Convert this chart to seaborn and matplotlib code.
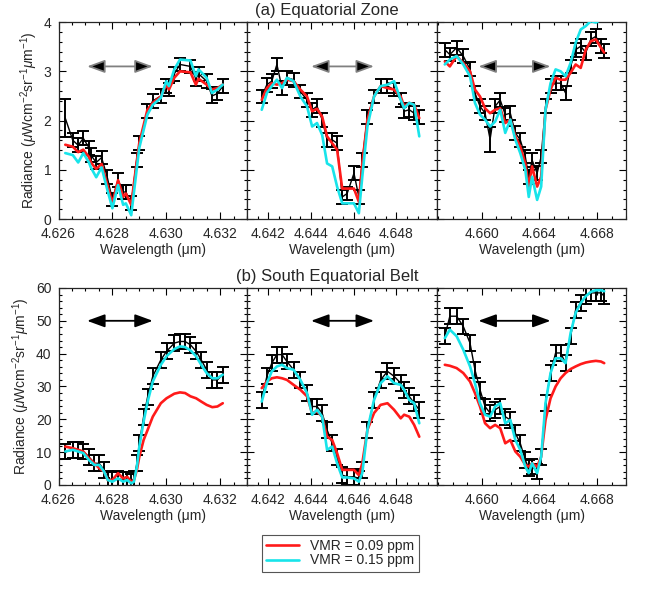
import matplotlib
matplotlib.use("Agg")
import matplotlib.pyplot as plt
import seaborn as sns
from matplotlib.ticker import MultipleLocator, FormatStrFormatter
from matplotlib.lines import Line2D

# --- 1. values ---
# (a) Equatorial Zone, window 1
ez1_wl = [4.62625, 4.62653, 4.62673, 4.62692, 4.62713, 4.62720, 4.62740, 4.62760,
          4.62781, 4.62800, 4.62821, 4.62840, 4.62850, 4.62870, 4.62890, 4.62900,
          4.62930, 4.62950, 4.62980, 4.63000, 4.63010, 4.63030, 4.63051, 4.63090,
          4.63110, 4.63120, 4.63150, 4.63170, 4.63190, 4.63210]
ez1_obs = [2.05, 1.60, 1.50, 1.64, 1.45, 1.30, 1.15, 1.25, 0.85, 0.40, 0.80, 0.55, 0.55, 0.32, 1.20,
           1.55, 2.20, 2.40, 2.50, 2.70, 2.63, 2.95, 3.14, 3.10, 2.85, 2.95, 2.80, 2.50, 2.55, 2.70]
ez1_red = [1.51, 1.47, 1.36, 1.41, 1.26, 1.15, 1.02, 1.12, 0.70, 0.32, 0.79, 0.45, 0.52, 0.29, 1.15,
           1.55, 2.22, 2.36, 2.49, 2.73, 2.63, 2.87, 3.00, 2.98, 2.73, 2.85, 2.73, 2.63, 2.66, 2.73]
ez1_cyan = [1.34, 1.30, 1.15, 1.34, 1.15, 1.05, 0.85, 1.05, 0.60, 0.22, 0.69, 0.29, 0.32, 0.08, 1.00,
            1.45, 2.12, 2.32, 2.46, 2.80, 2.70, 3.04, 3.24, 3.22, 2.90, 3.04, 2.87, 2.56, 2.63, 2.73]

# (a) Equatorial Zone, window 2
ez2_wl = [4.64169, 4.64193, 4.64216, 4.64240, 4.64264, 4.64287, 4.64318, 4.64350,
          4.64381, 4.64405, 4.64428, 4.64452, 4.64475, 4.64499, 4.64522, 4.64546,
          4.64569, 4.64601, 4.64624, 4.64640, 4.64664, 4.64695, 4.64726, 4.64758,
          4.64789, 4.64820, 4.64836, 4.64860, 4.64883, 4.64907]
ez2_obs = [2.49, 2.73, 2.80, 3.14, 2.66, 2.87, 2.83, 2.59, 2.42, 2.22, 2.29, 2.02, 1.61, 1.61, 1.54,
           0.45, 0.52, 0.93, 0.45, 1.20, 2.08, 2.49, 2.70, 2.70, 2.63, 2.42, 2.19, 2.22, 2.15, 2.08]
ez2_red = [2.42, 2.66, 2.76, 2.73, 2.76, 2.83, 2.80, 2.63, 2.49, 2.19, 2.24, 2.08, 1.68, 1.54, 1.41,
           0.62, 0.62, 0.62, 0.35, 1.13, 2.02, 2.49, 2.70, 2.66, 2.63, 2.49, 2.29, 2.36, 2.32, 2.05]
ez2_cyan = [2.22, 2.56, 2.70, 2.83, 2.66, 2.87, 2.80, 2.49, 2.29, 1.88, 1.95, 1.71, 1.13, 1.07, 0.66,
            0.32, 0.32, 0.32, 0.12, 0.86, 1.88, 2.49, 2.70, 2.73, 2.80, 2.42, 2.25, 2.36, 2.32, 1.68]

# (a) Equatorial Zone, window 3
ez3_wl = [4.65744, 4.65779, 4.65826, 4.65872, 4.65919, 4.65953, 4.65988, 4.66023,
          4.66058, 4.66093, 4.66128, 4.66163, 4.66198, 4.66233, 4.66267, 4.66302,
          4.66326, 4.66349, 4.66384, 4.66412, 4.66442, 4.66477, 4.66512, 4.66547,
          4.66581, 4.66616, 4.66651, 4.66686, 4.66721, 4.66756, 4.66791, 4.66826, 4.66849]
ez3_obs = [3.44, 3.34, 3.48, 3.31, 3.04, 2.56, 2.29, 2.15, 1.62, 2.29, 2.42, 2.12, 2.15, 1.75, 1.61,
           1.27, 0.86, 1.20, 0.93, 1.27, 2.29, 2.70, 2.76, 2.76, 2.56, 3.10, 3.44, 3.51, 3.38, 3.65,
           3.71, 3.51, 3.41]
ez3_red = [3.20, 3.10, 3.31, 3.17, 3.00, 2.63, 2.49, 2.25, 2.15, 2.22, 2.25, 1.95, 2.02, 1.68, 1.47,
           1.13, 0.66, 1.07, 0.66, 0.86, 2.22, 2.63, 2.87, 2.83, 2.83, 2.97, 3.14, 3.07, 3.44, 3.61,
           3.65, 3.48, 3.38]
ez3_cyan = [3.14, 3.24, 3.31, 3.14, 2.90, 2.36, 2.12, 2.02, 1.88, 1.98, 2.22, 1.75, 2.02, 1.61, 1.34,
            1.00, 0.45, 0.86, 0.39, 0.66, 2.22, 2.76, 3.04, 3.00, 2.90, 3.17, 3.58, 3.85, 3.92, 4.02,
            3.99, 4.05, 4.05]

# (b) South Equatorial Belt, window 1
seb1_wl = [4.62625, 4.62653, 4.62673, 4.62692, 4.62713, 4.62733, 4.62751, 4.62769,
           4.62783, 4.62800, 4.62821, 4.62840, 4.62855, 4.62870, 4.62880, 4.62891,
           4.62900, 4.62916, 4.62931, 4.62950, 4.62980, 4.63001, 4.63030, 4.63051,
           4.63070, 4.63090, 4.63111, 4.63130, 4.63150, 4.63171, 4.63190, 4.63210]
seb1_obs = [10.2, 10.7, 10.7, 10.2, 8.6, 6.6, 6.6, 4.6, 2.0, 1.5, 2.0, 1.5, 1.5, 1.0, 2.0, 6.6,
            12.7, 20.8, 26.9, 33.1, 38.1, 40.7, 43.2, 43.7, 43.7, 42.7, 40.7, 38.1, 35.1, 32.0,
            32.0, 33.6]
seb1_red = [11.7, 11.2, 10.7, 10.2, 8.1, 6.6, 5.1, 4.1, 1.5, 1.5, 3.6, 2.0, 2.5, 1.0, 1.5, 4.6,
            8.6, 13.7, 16.8, 20.8, 24.9, 26.4, 27.8, 28.2, 28.0, 27.0, 26.4, 25.4, 24.4, 23.7,
            23.9, 24.9]
seb1_cyan = [10.2, 10.7, 10.2, 9.7, 7.6, 6.1, 6.1, 4.1, 1.5, 1.0, 2.0, 1.0, 1.5, 0.5, 1.0, 5.6,
             11.7, 19.3, 25.4, 31.5, 36.6, 39.2, 41.4, 42.2, 42.0, 41.0, 39.2, 36.6, 34.1, 32.5,
             32.5, 33.6]

# (b) South Equatorial Belt, window 2
seb2_wl = ez2_wl
seb2_obs = [25.9, 33.1, 37.1, 39.7, 39.7, 37.6, 35.1, 32.0, 28.0, 23.9, 23.9, 21.9, 16.8, 12.7, 8.6,
            3.0, 2.5, 2.5, 2.0, 4.6, 16.8, 25.9, 32.0, 34.6, 33.1, 31.0, 29.0, 27.0, 24.9, 22.9]
seb2_red = [29.5, 31.5, 32.5, 32.8, 32.5, 32.0, 30.5, 29.0, 27.0, 21.9, 22.4, 20.8, 14.7, 13.7, 9.7,
            4.6, 4.6, 4.6, 3.0, 6.6, 16.8, 21.9, 24.4, 24.9, 22.9, 20.3, 21.4, 20.8, 18.3, 14.7]
seb2_cyan = [25.4, 31.0, 34.6, 36.1, 36.6, 35.6, 35.1, 32.0, 28.0, 21.4, 22.9, 20.8, 10.7, 11.7, 6.6,
             2.3, 2.3, 2.0, 1.0, 3.6, 16.8, 25.9, 31.0, 33.1, 31.0, 30.5, 29.0, 25.9, 24.9, 18.8]

# (b) South Equatorial Belt, window 3
seb3_wl = ez3_wl
seb3_obs = [45.3, 51.4, 51.4, 48.3, 43.2, 35.1, 29.0, 23.9, 21.9, 22.9, 23.9, 20.8, 19.8, 15.8, 12.7,
            7.6, 5.1, 5.6, 4.1, 8.6, 24.9, 34.1, 40.2, 40.2, 37.1, 45.3, 53.4, 55.4, 57.5, 58.5,
            58.5, 58.5, 57.5]
seb3_red = [36.6, 36.3, 35.6, 34.1, 31.5, 28.0, 23.9, 18.8, 17.3, 18.3, 17.3, 12.7, 13.7, 10.2, 8.6,
            6.1, 5.6, 6.6, 5.6, 8.6, 19.8, 26.4, 30.0, 32.5, 34.1, 35.3, 36.1, 36.8, 37.3, 37.6,
            37.8, 37.6, 37.1]
seb3_cyan = [44.7, 47.3, 45.3, 41.2, 36.1, 31.0, 24.9, 21.4, 20.8, 23.9, 24.9, 18.8, 19.8, 13.7, 10.7,
             5.6, 3.6, 6.6, 3.6, 8.6, 24.9, 34.1, 38.6, 38.6, 37.1, 46.3, 52.4, 55.4, 57.5, 58.8,
             59.3, 59.3, 59.0]

# error bar half-widths
ez_err = 0.14
seb_err = 2.4
ez1_first_err = 0.38   # large error on first EZ point
ez3_dip_err = 0.25     # isolated low point near 4.6606

# wavelength windows, tick labels and arrow spans
xlims = [(4.6260, 4.6330), (4.6410, 4.6499), (4.6569, 4.6700)]
xticks = [[4.626, 4.628, 4.630, 4.632], [4.642, 4.644, 4.646, 4.648], [4.660, 4.664, 4.668]]
xminor = [0.0005, 0.0005, 0.001]
arrow_spans = [(4.62706, 4.62950), (4.64400, 4.64695), (4.65977, 4.66477)]

RED = "#ff1a1a"
CYAN = "#18e4ea"

# --- 2. style ---
sns.set_style("ticks")
plt.rcParams["font.family"] = ["Liberation Sans", "DejaVu Sans"]
plt.rcParams["mathtext.fontset"] = "custom"
plt.rcParams["mathtext.rm"] = "Liberation Sans"
plt.rcParams["mathtext.it"] = "Liberation Sans:italic"

fig = plt.figure(figsize=(6.54, 5.89), dpi=100)

lefts = [0.0895, 0.3777, 0.6682]
rights = [0.3777, 0.6682, 0.9572]
row_bottoms = [0.628, 0.1766]
row_h = 0.3345

rows = [
    dict(wl=[ez1_wl, ez2_wl, ez3_wl], obs=[ez1_obs, ez2_obs, ez3_obs],
         red=[ez1_red, ez2_red, ez3_red], cyan=[ez1_cyan, ez2_cyan, ez3_cyan],
         err=ez_err, ylim=(0, 4), ymaj=1, ymin=0.2, arrow_y=3.1, shaft="#808080"),
    dict(wl=[seb1_wl, seb2_wl, seb3_wl], obs=[seb1_obs, seb2_obs, seb3_obs],
         red=[seb1_red, seb2_red, seb3_red], cyan=[seb1_cyan, seb2_cyan, seb3_cyan],
         err=seb_err, ylim=(0, 60), ymaj=10, ymin=2, arrow_y=50, shaft="black"),
]

for r, row in enumerate(rows):
    for c in range(3):
        ax = fig.add_axes([lefts[c], row_bottoms[r], rights[c] - lefts[c], row_h])
        wl = row["wl"][c]
        errs = [row["err"]] * len(wl)
        if r == 0 and c == 0:
            errs[0] = ez1_first_err
        if r == 0 and c == 2:
            errs[8] = ez3_dip_err
        ax.errorbar(wl, row["obs"][c], yerr=errs, color="black", lw=1.0,
                    elinewidth=1.4, capsize=4.5, capthick=1.4, zorder=2)
        sns.lineplot(x=wl, y=row["red"][c], ax=ax, color=RED, lw=1.9, zorder=3)
        sns.lineplot(x=wl, y=row["cyan"][c], ax=ax, color=CYAN, lw=1.9, zorder=4)

        x0, x1 = arrow_spans[c]
        ax.annotate("", xy=(x1, row["arrow_y"]), xytext=(x0, row["arrow_y"]),
                    arrowprops=dict(arrowstyle="<|-|>,head_length=0.6,head_width=0.22",
                                    fc="black", ec=row["shaft"],
                                    lw=1.3, mutation_scale=18, shrinkA=0, shrinkB=0))

        ax.set_xlim(*xlims[c])
        ax.set_ylim(*row["ylim"])
        ax.set_xticks(xticks[c])
        ax.xaxis.set_major_formatter(FormatStrFormatter("%.3f"))
        ax.xaxis.set_minor_locator(MultipleLocator(xminor[c]))
        ax.yaxis.set_major_locator(MultipleLocator(row["ymaj"]))
        ax.yaxis.set_minor_locator(MultipleLocator(row["ymin"]))
        ax.tick_params(which="both", direction="in", top=True, right=True, labelsize=10,
                       width=0.8, color="black")
        ax.tick_params(which="major", length=5)
        ax.tick_params(axis="x", which="major", pad=6)
        ax.tick_params(axis="y", which="major", pad=5)
        ax.tick_params(which="minor", length=2.5)
        ax.set_xlabel("Wavelength (\u03bcm)", fontsize=10, labelpad=1)
        if c == 0:
            ax.set_ylabel(r"Radiance ($\mu$Wcm$^{-2}$sr$^{-1}$$\mu$m$^{-1}$)", fontsize=10, labelpad=3)
        else:
            ax.set_yticklabels([])
            ax.set_ylabel("")
        for s in ax.spines.values():
            s.set_linewidth(0.9)

fig.text(0.5, 0.983, "(a) Equatorial Zone", ha="center", va="center", fontsize=12)
fig.text(0.5, 0.530, "(b) South Equatorial Belt", ha="center", va="center", fontsize=12)

handles = [Line2D([], [], color=RED, lw=1.9), Line2D([], [], color=CYAN, lw=1.9)]
leg = fig.legend(handles, ["VMR = 0.09 ppm", "VMR = 0.15 ppm"], loc="center",
                 bbox_to_anchor=(0.52, 0.061), fontsize=10, frameon=True, fancybox=False,
                 edgecolor="#555555", framealpha=1, handlelength=2.4, borderpad=0.3,
                 labelspacing=0.05, handletextpad=0.8)
leg.get_frame().set_linewidth(0.8)

fig.savefig("out.png", dpi=100)
